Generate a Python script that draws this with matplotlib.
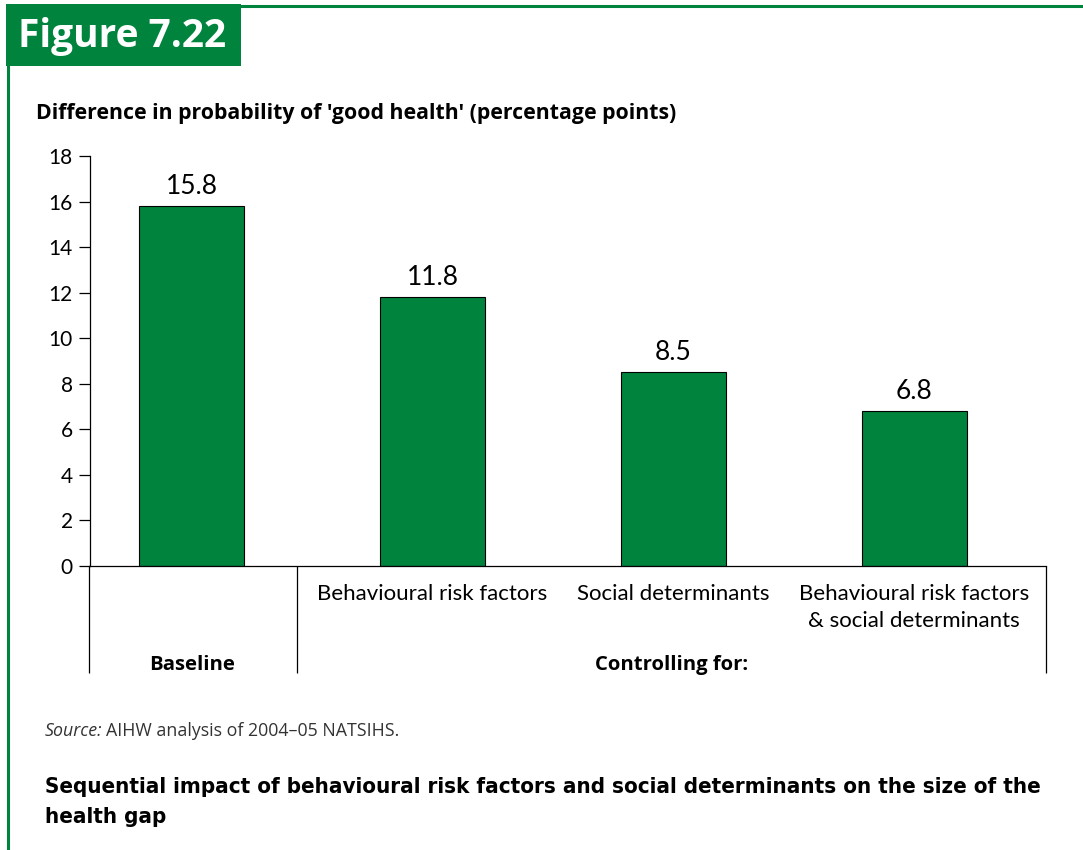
import matplotlib
matplotlib.use('Agg')
import matplotlib.pyplot as plt
from matplotlib.patches import Rectangle
from matplotlib.transforms import offset_copy


# Difference in probability of 'good health' between groups, in percentage points
categories = ['Baseline', 'Behavioural risk factors', 'Social determinants',
              'Behavioural risk factors\n& social determinants']
values = [15.8, 11.8, 8.5, 6.8]
yticks = [0, 2, 4, 6, 8, 10, 12, 14, 16, 18]

GREEN = '#00843d'
W, H = 1083, 850
BOLD_FONT = ['Open Sans', 'DejaVu Sans']


def px(x, y):
    # pixel position (from top left) -> figure fraction
    return x / W, 1 - y / H


def main():
    plt.rcParams['font.family'] = ['Lato', 'DejaVu Sans']
    fig = plt.figure(figsize=(W / 100, H / 100), dpi=100)

    # green frame and heading box
    fig.add_artist(plt.Line2D([7.5 / W, 7.5 / W], [0, 1 - 5 / H], color=GREEN, lw=2.2))
    fig.add_artist(plt.Line2D([7.5 / W, 1], [1 - 5.5 / H, 1 - 5.5 / H], color=GREEN, lw=2.2))
    fig.add_artist(Rectangle(px(6, 66), 235 / W, 62 / H, color=GREEN, lw=0))
    fig.text(*px(18, 36), 'Figure 7.22', color='white', fontsize=28, fontweight='bold',
             family=BOLD_FONT, va='center', ha='left')

    fig.text(*px(36, 113), "Difference in probability of 'good health' (percentage points)",
             fontsize=15.3, fontweight='bold', family=BOLD_FONT, va='center', ha='left')

    # bar chart
    left, bottom = px(89.5, 566)
    right, top = px(1046, 156)
    ax = fig.add_axes([left, bottom, right - left, top - bottom])
    xpos = list(range(len(values)))
    ax.bar(xpos, values, width=0.436, color=GREEN, edgecolor='black', linewidth=0.8)
    for x, v in zip(xpos, values):
        ax.annotate(f'{v:.1f}', (x, v), xytext=(0, 9), textcoords='offset points',
                    ha='center', va='baseline', fontsize=19)

    xmin, xmax = -0.424, 3.548
    ax.set_xlim(xmin, xmax)
    ax.set_ylim(0, 18)
    ax.set_yticks(yticks)
    ax.tick_params(axis='y', length=8, width=0.9, pad=4, labelsize=15)
    ax.set_xticks([])
    for s in ['top', 'right']:
        ax.spines[s].set_visible(False)
    ax.spines['left'].set_linewidth(0.9)
    ax.spines['bottom'].set_linewidth(0.9)

    # dividers under the axis for the grouped category labels
    ylow = -(673 - 566) / 22.8
    ax.vlines([xmin, 0.437, xmax], ylow, 0, color='black', lw=0.9, clip_on=False)

    yl = -(584 - 566) / 22.8
    for x, lab in zip(xpos[1:], categories[1:]):
        ax.text(x, yl, lab, ha='center', va='top', fontsize=16, linespacing=1.45)
    ylab = -(665 - 566) / 22.8
    ax.text(0, ylab, categories[0], ha='center', va='center',
            fontsize=14.6, fontweight='bold', family=BOLD_FONT)
    ax.text((0.437 + xmax) / 2, ylab, 'Controlling for:', ha='center',
            va='center', fontsize=14.6, fontweight='bold', family=BOLD_FONT)

    # source note: italic label followed by plain text
    src = fig.text(*px(45, 731), 'Source:', fontsize=12.8, color='#333333', va='center',
                   style='italic', family=['Open Sans', 'DejaVu Sans'])
    fig.canvas.draw()
    w = src.get_window_extent().width + 3
    fig.text(*px(45, 731), 'AIHW analysis of 2004\u201305 NATSIHS.', fontsize=12.8,
             color='#333333', va='center', family=['Open Sans', 'DejaVu Sans'],
             transform=offset_copy(fig.transFigure, fig=fig, x=w * 72 / fig.dpi, units='points'))

    fig.text(*px(45, 802), 'Sequential impact of behavioural risk factors and social determinants on the size of the\nhealth gap',
             fontsize=16, fontweight='bold', va='center', linespacing=1.6,
             family='DejaVu Sans', fontstretch='condensed')

    fig.savefig('out.png', dpi=100)


if __name__ == '__main__':
    main()
